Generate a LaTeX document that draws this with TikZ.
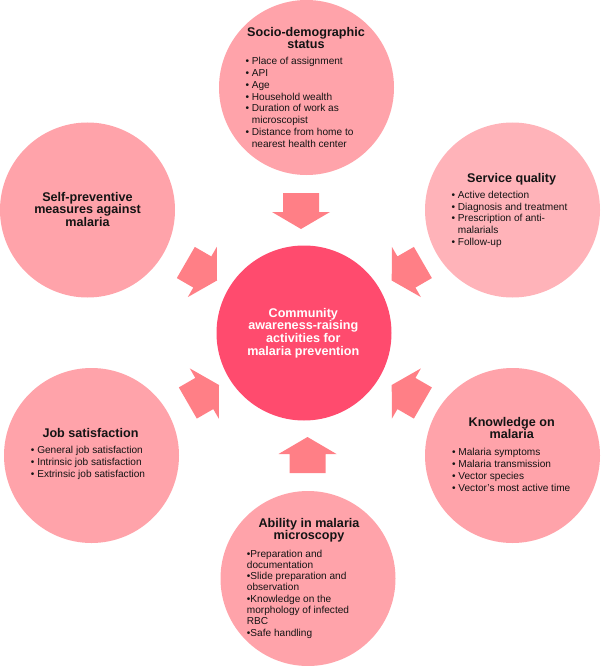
\documentclass[tikz,border=0pt]{standalone}
\usepackage{fontspec}
\setmainfont{Liberation Sans}
\definecolor{outerpink}{HTML}{FFA3AA}
\definecolor{lightpink}{HTML}{FFB3B9}
\definecolor{arrowpink}{HTML}{FF7F86}
\definecolor{hubpink}{HTML}{FF4B6E}
\definecolor{inktext}{HTML}{141414}
\newcommand\ttlfont{\fontsize{12.6}{14}\selectfont\bfseries}
\newcommand\itemfont{\fontsize{10.1}{12}\selectfont\mdseries}
% title rows + list
\newcommand\tblock[4]{\vbox{\lineskiplimit=-\maxdimen\baselineskip=#1pt
  \halign{\hfil\ttlfont##\hfil\cr#2\cr\noalign{\vskip#3pt}#4\cr}}}
% title rows only
\newcommand\tonly[2]{\vbox{\lineskiplimit=-\maxdimen\baselineskip=#1pt
  \halign{\hfil\ttlfont##\hfil\cr#2\crcr}}}
% list: #1 shift, #2 line skip, #3 rows
\newcommand\ilist[3]{\vtop{\itemfont\lineskiplimit=-\maxdimen\baselineskip=#2pt
  \halign{##\hfil&##\hfil\cr#3\crcr}}\hskip#1pt}
\tikzset{
  circ/.style={circle, minimum size=175pt, inner sep=0pt, draw=none},
  txt/.style={anchor=north, inner sep=0pt, text=inktext},
  blockarrow/.style={fill=arrowpink, draw=none}
}
\begin{document}
\begin{tikzpicture}[x=1pt, y=-1pt]
\useasboundingbox (0,0) rectangle (600,666);

% circles
\node[circ, fill=outerpink] (soc) at (306.5,87.5) {};
\node[circ, fill=lightpink] (svc) at (512.5,210) {};
\node[circ, fill=outerpink] (slf) at (87.5,210) {};
\node[circ, fill=outerpink] (job) at (91.5,455.5) {};
\node[circ, fill=outerpink] (knw) at (512.5,455.5) {};
\node[circ, fill=outerpink] (abl) at (308,578.5) {};
\node[circ, fill=hubpink] (hub) at (304,333) {};

% block arrows (tip, direction)
\foreach \tx/\ty/\ang [count=\i] in {301/229/-90, 307.5/437/90, 217/280.5/-30, 391.7/280.5/-150, 219/385/30, 391.7/385/150}{
  \begin{scope}[shift={(\tx,\ty)}, rotate=\ang]
    \coordinate (tip\i) at (0,0);
    \fill[blockarrow] (tip\i) -- (-17,29) -- (-17,18) -- (-36,18) -- (-36,-18) -- (-17,-18) -- (-17,-29) -- cycle;
  \end{scope}
}

% texts
\node[txt] (tsoc) at (306,26.7) {\tblock{12.3}{Socio-demographic\cr status}{3.7}{\ilist{13}{11.9}{%
\textbullet\ &Place of assignment\cr
\textbullet\ &API\cr
\textbullet\ &Age\cr
\textbullet\ &Household wealth\cr
\textbullet\ &Duration of work as\cr
&microscopist\cr
\textbullet\ &Distance from home to\cr
&nearest health center}}};

\node[txt] (tsvc) at (511.7,173.3) {\tblock{12.5}{Service quality}{3.2}{\ilist{4.4}{11.7}{%
\textbullet\ &Active detection\cr
\textbullet\ &Diagnosis and treatment\cr
\textbullet\ &Prescription of anti-\cr
&malarials\cr
\textbullet\ &Follow-up}}};

\node[txt] (tslf) at (87.5,191.7) {\tonly{12.5}{Self-preventive\cr measures against\cr malaria}};

\node[txt] (tjob) at (90.5,428.3) {\tblock{12.5}{Job satisfaction}{3.2}{\ilist{5}{12.2}{%
\textbullet\ &General job satisfaction\cr
\textbullet\ &Intrinsic job satisfaction\cr
\textbullet\ &Extrinsic job satisfaction}}};

\node[txt] (tknw) at (511.7,416.7) {\tblock{12.3}{Knowledge on\cr malaria}{4.7}{\ilist{1}{12.2}{%
\textbullet\ &Malaria symptoms\cr
\textbullet\ &Malaria transmission\cr
\textbullet\ &Vector species\cr
\textbullet\ &Vector's most active time}}};

\node[txt] (tabl) at (309,518.3) {\tblock{11.7}{Ability in malaria\cr microscopy}{6}{\ilist{22}{11.3}{%
\textbullet Preparation and\cr
documentation\cr
\textbullet Slide preparation and\cr
observation\cr
\textbullet Knowledge on the\cr
morphology of infected\cr
RBC\cr
\textbullet Safe handling}}};

\node[txt, text=white] (thub) at (303.3,307.7) {\tonly{12.8}{Community\cr awareness-raising\cr activities for\cr malaria prevention}};
\end{tikzpicture}
\end{document}
